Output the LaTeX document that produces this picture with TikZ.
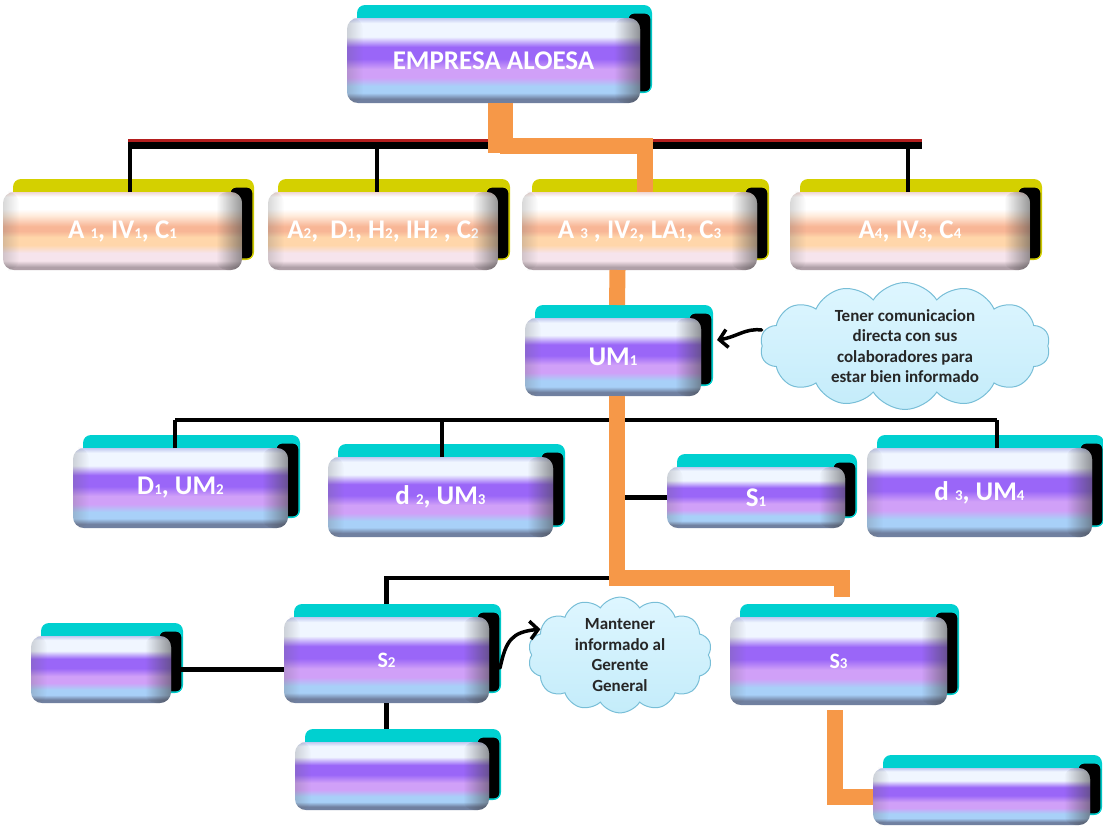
\documentclass[tikz,border=0pt]{standalone}
\usepackage{fontspec}
\setmainfont{Carlito}
\usetikzlibrary{shapes.symbols,arrows.meta,fadings}

% colours
\definecolor{cyanTop}{RGB}{0,208,208}
\definecolor{yellowTop}{RGB}{212,208,0}
\definecolor{orangeLine}{RGB}{246,152,72}
\definecolor{redLine}{RGB}{180,30,30}
\definecolor{cloudFill}{RGB}{196,236,250}
\definecolor{cloudTop}{RGB}{222,246,255}
\definecolor{cloudEdge}{RGB}{120,190,215}
% violet glass front
\definecolor{vgGrey}{RGB}{112,128,160}
\definecolor{vgBlue}{RGB}{168,208,248}
\definecolor{vgPink}{RGB}{208,160,248}
\definecolor{vgPurple}{RGB}{154,102,248}
\definecolor{vgWhite}{RGB}{240,246,255}
\definecolor{vgTop}{RGB}{192,200,240}
% peach glass front
\definecolor{pgGrey}{RGB}{176,160,168}
\definecolor{pgPinkL}{RGB}{246,228,236}
\definecolor{pgPeach}{RGB}{255,214,170}
\definecolor{pgSalmon}{RGB}{248,182,150}
\definecolor{pgCream}{RGB}{255,236,220}
\definecolor{pgWhite}{RGB}{255,255,255}
\definecolor{pgTop}{RGB}{240,214,210}

\pgfdeclareverticalshading{violetglass}{100bp}{color(0bp)=(vgGrey); color(25bp)=(vgGrey); color(27.5bp)=(vgGrey); color(31bp)=(vgBlue); color(35bp)=(vgBlue); color(40bp)=(vgPink); color(45bp)=(vgPink); color(51bp)=(vgPurple); color(58bp)=(vgPurple); color(64bp)=(vgWhite); color(72bp)=(vgWhite); color(75bp)=(vgTop); color(100bp)=(vgTop)}
\pgfdeclareverticalshading{peachglass}{100bp}{color(0bp)=(pgGrey); color(25bp)=(pgGrey); color(27bp)=(pgGrey); color(31bp)=(pgPinkL); color(36bp)=(pgPinkL); color(41bp)=(pgPeach); color(46bp)=(pgPeach); color(50bp)=(pgSalmon); color(53bp)=(pgSalmon); color(60bp)=(pgCream); color(64bp)=(pgWhite); color(72bp)=(pgWhite); color(75bp)=(pgTop); color(100bp)=(pgTop)}

% darkening towards the ends of each glass face
\tikzfading[name=fadeinright, left color=transparent!100, right color=transparent!0]
\tikzfading[name=fadeinleft, left color=transparent!0, right color=transparent!100]

% small index digits
\newcommand\lowidx[1]{{\fontsize{15}{15}\selectfont #1}}

% 3D glass box: name, x1, y1, x2, y2, top colour, front shading, text
\newcommand\glassbox[8]{%
  \fill[#6, rounded corners=8pt] ({#2+10},{#3-13}) rectangle ({#4+12},{#5-10});
  \filldraw[fill=black, draw=#6, line width=1.2pt, rounded corners=6pt]
    ({#4-12},{#3-5}) rectangle ({#4+11},{#5-11});
  \node[glassfront, shading=#7, minimum width={(#4-#2)*1pt}, minimum height={(#5-#3)*1pt}]
    (#1) at ({(#2+#4)/2},{(#3+#5)/2}) {#8};
  \fill[black!75, fill opacity=0.55, path fading=fadeinright, rounded corners=11pt]
    ({#4-26},{#3}) rectangle ({#4},{#5});
  \fill[black!60, fill opacity=0.25, path fading=fadeinleft, rounded corners=11pt]
    ({#2},{#3}) rectangle ({#2+16},{#5});
}

\tikzset{
  glassfront/.style={rectangle, rounded corners=11pt, inner sep=0pt, outer sep=0pt,
    text=white, font=\bfseries\fontsize{27}{29}\selectfont},
  smalllabel/.style={font=\bfseries\fontsize{22}{24}\selectfont},
  bk/.style={black, line width=4.5pt},
  orline/.style={orangeLine, line width=16pt},
  cloudbox/.style={cloud, cloud puffs=14, cloud puff arc=115, cloud ignores aspect,
    draw=cloudEdge, line width=1pt, top color=cloudTop, bottom color=cloudFill,
    inner sep=0pt, align=center, text=black!85,
    font=\bfseries\fontsize{17}{20.5}\selectfont},
  callout/.style={black, line width=3.5pt, line cap=round,
    -{Straight Barb[length=8pt,width=18pt,line width=3.5pt]}},
}

\begin{document}
\begin{tikzpicture}[x=1pt,y=-1pt]
\useasboundingbox (0,0) rectangle (1103,827);

% boxes
\glassbox{empresa}{347}{18}{640}{103}{cyanTop}{violetglass}{EMPRESA ALOESA}
\glassbox{a1}{3}{192}{242}{270}{yellowTop}{peachglass}{A \lowidx{1}, IV\lowidx{1}, C\lowidx{1}}
\glassbox{a2}{268}{192}{498}{270}{yellowTop}{peachglass}{A\lowidx{2},\ \ D\lowidx{1}, H\lowidx{2}, IH\lowidx{2} , C\lowidx{2}}
\glassbox{a3}{522}{192}{757}{270}{yellowTop}{peachglass}{A \lowidx{3} , IV\lowidx{2}, LA\lowidx{1}, C\lowidx{3}}
\glassbox{a4}{790}{192}{1030}{270}{yellowTop}{peachglass}{A\lowidx{4}, IV\lowidx{3}, C\lowidx{4}}
\glassbox{um1}{525}{318}{701}{396}{cyanTop}{violetglass}{UM\lowidx{1}}
\glassbox{d1}{73}{448}{288}{528}{cyanTop}{violetglass}{D\lowidx{1}, UM\lowidx{2}}
\glassbox{d2}{328}{457}{553}{537}{cyanTop}{violetglass}{d \lowidx{2}, UM\lowidx{3}}
\glassbox{s1}{667}{467}{845}{528}{cyanTop}{violetglass}{S\lowidx{1}}
\glassbox{d3}{867}{448}{1092}{537}{cyanTop}{violetglass}{d \lowidx{3}, UM\lowidx{4}}
\glassbox{lb}{31}{636}{171}{703}{cyanTop}{violetglass}{}
\glassbox{s2}{284}{617}{489}{703}{cyanTop}{violetglass}{\fontsize{22}{24}\selectfont S\lowidx{2}}
\glassbox{s2b}{295}{742}{489}{810}{cyanTop}{violetglass}{}
\glassbox{s3}{730}{617}{947}{705}{cyanTop}{violetglass}{\fontsize{22}{24}\selectfont S\lowidx{3}}
\glassbox{br}{873}{768}{1090}{825}{cyanTop}{violetglass}{}

% clouds
\node[cloudbox, minimum width=290pt, minimum height=117pt] (c1) at (905,346)
  {Tener comunicacion\\directa con sus\\colaboradores para\\estar bien informado};
\node[cloudbox, minimum width=184pt, minimum height=114pt] (c2) at (620,655)
  {Mantener\\informado al\\Gerente\\General};

% top level bar
\coordinate (barL) at (128,145);
\coordinate (barR) at (922,145);
\draw[redLine, line width=3pt] ([yshift=5pt]barL) -- ([yshift=5pt]barR);
\draw[bk, line width=7pt] (barL) -- (barR);
\draw[bk] ([xshift=7.5pt]a1.north) -- ([xshift=7.5pt]a1.north |- barL);
\draw[bk] ([xshift=-6pt]a2.north) -- ([xshift=-6pt]a2.north |- barL);
\draw[bk] ([xshift=-2pt]a4.north) -- ([xshift=-2pt]a4.north |- barL);

% orange line of command
\draw[orangeLine, line width=25pt] ([xshift=6.5pt]empresa.south) -- ++(0,50);
\draw[orline] ([xshift=6.5pt]empresa.south) ++(0,43) -| ([xshift=5pt]a3.north);
\draw[orline] ([xshift=-22pt]a3.south) -- ([xshift=4pt,yshift=13pt]um1.north);

% second level bar
\coordinate (bar2L) at (175,420);
\coordinate (bar2R) at (997,420);
\coordinate (j2) at (617,578);
\draw[bk] (bar2L) -- (bar2R);
\draw[bk] (d1.north -| bar2L) -- (bar2L);
\draw[bk] ([xshift=1.5pt]d2.north) -- ([xshift=1.5pt]d2.north |- bar2L);
\draw[bk] (d3.north -| bar2R) -- (bar2R);
\draw[bk] (s1.west) -- (s1.west -| j2);
\draw[bk] ([yshift=13pt]s2.north) |- (j2);
\draw[bk] ([xshift=10pt]lb.east) -- (lb.east -| s2.west);
\draw[bk] (s2.south) -- ([yshift=13pt]s2b.north -| s2.south);

\draw[orline] ([xshift=4pt]um1.south) |- ([xshift=3.5pt,yshift=39pt]s3.north)
  -- ([xshift=3.5pt,yshift=20pt]s3.north);
\draw[orline] ([xshift=-3.5pt,yshift=-5pt]s3.south) |- (br.west);

% callout arrows
\draw[callout] ([yshift=16pt]c1.west) .. controls (745,328) and (737,337)
  .. ([xshift=16pt,yshift=17pt]um1.east);
\draw[callout] ([xshift=11pt,yshift=-8pt]s2.east) .. controls (506,640) and (512,632)
  .. (c2.162);
\end{tikzpicture}
\end{document}
